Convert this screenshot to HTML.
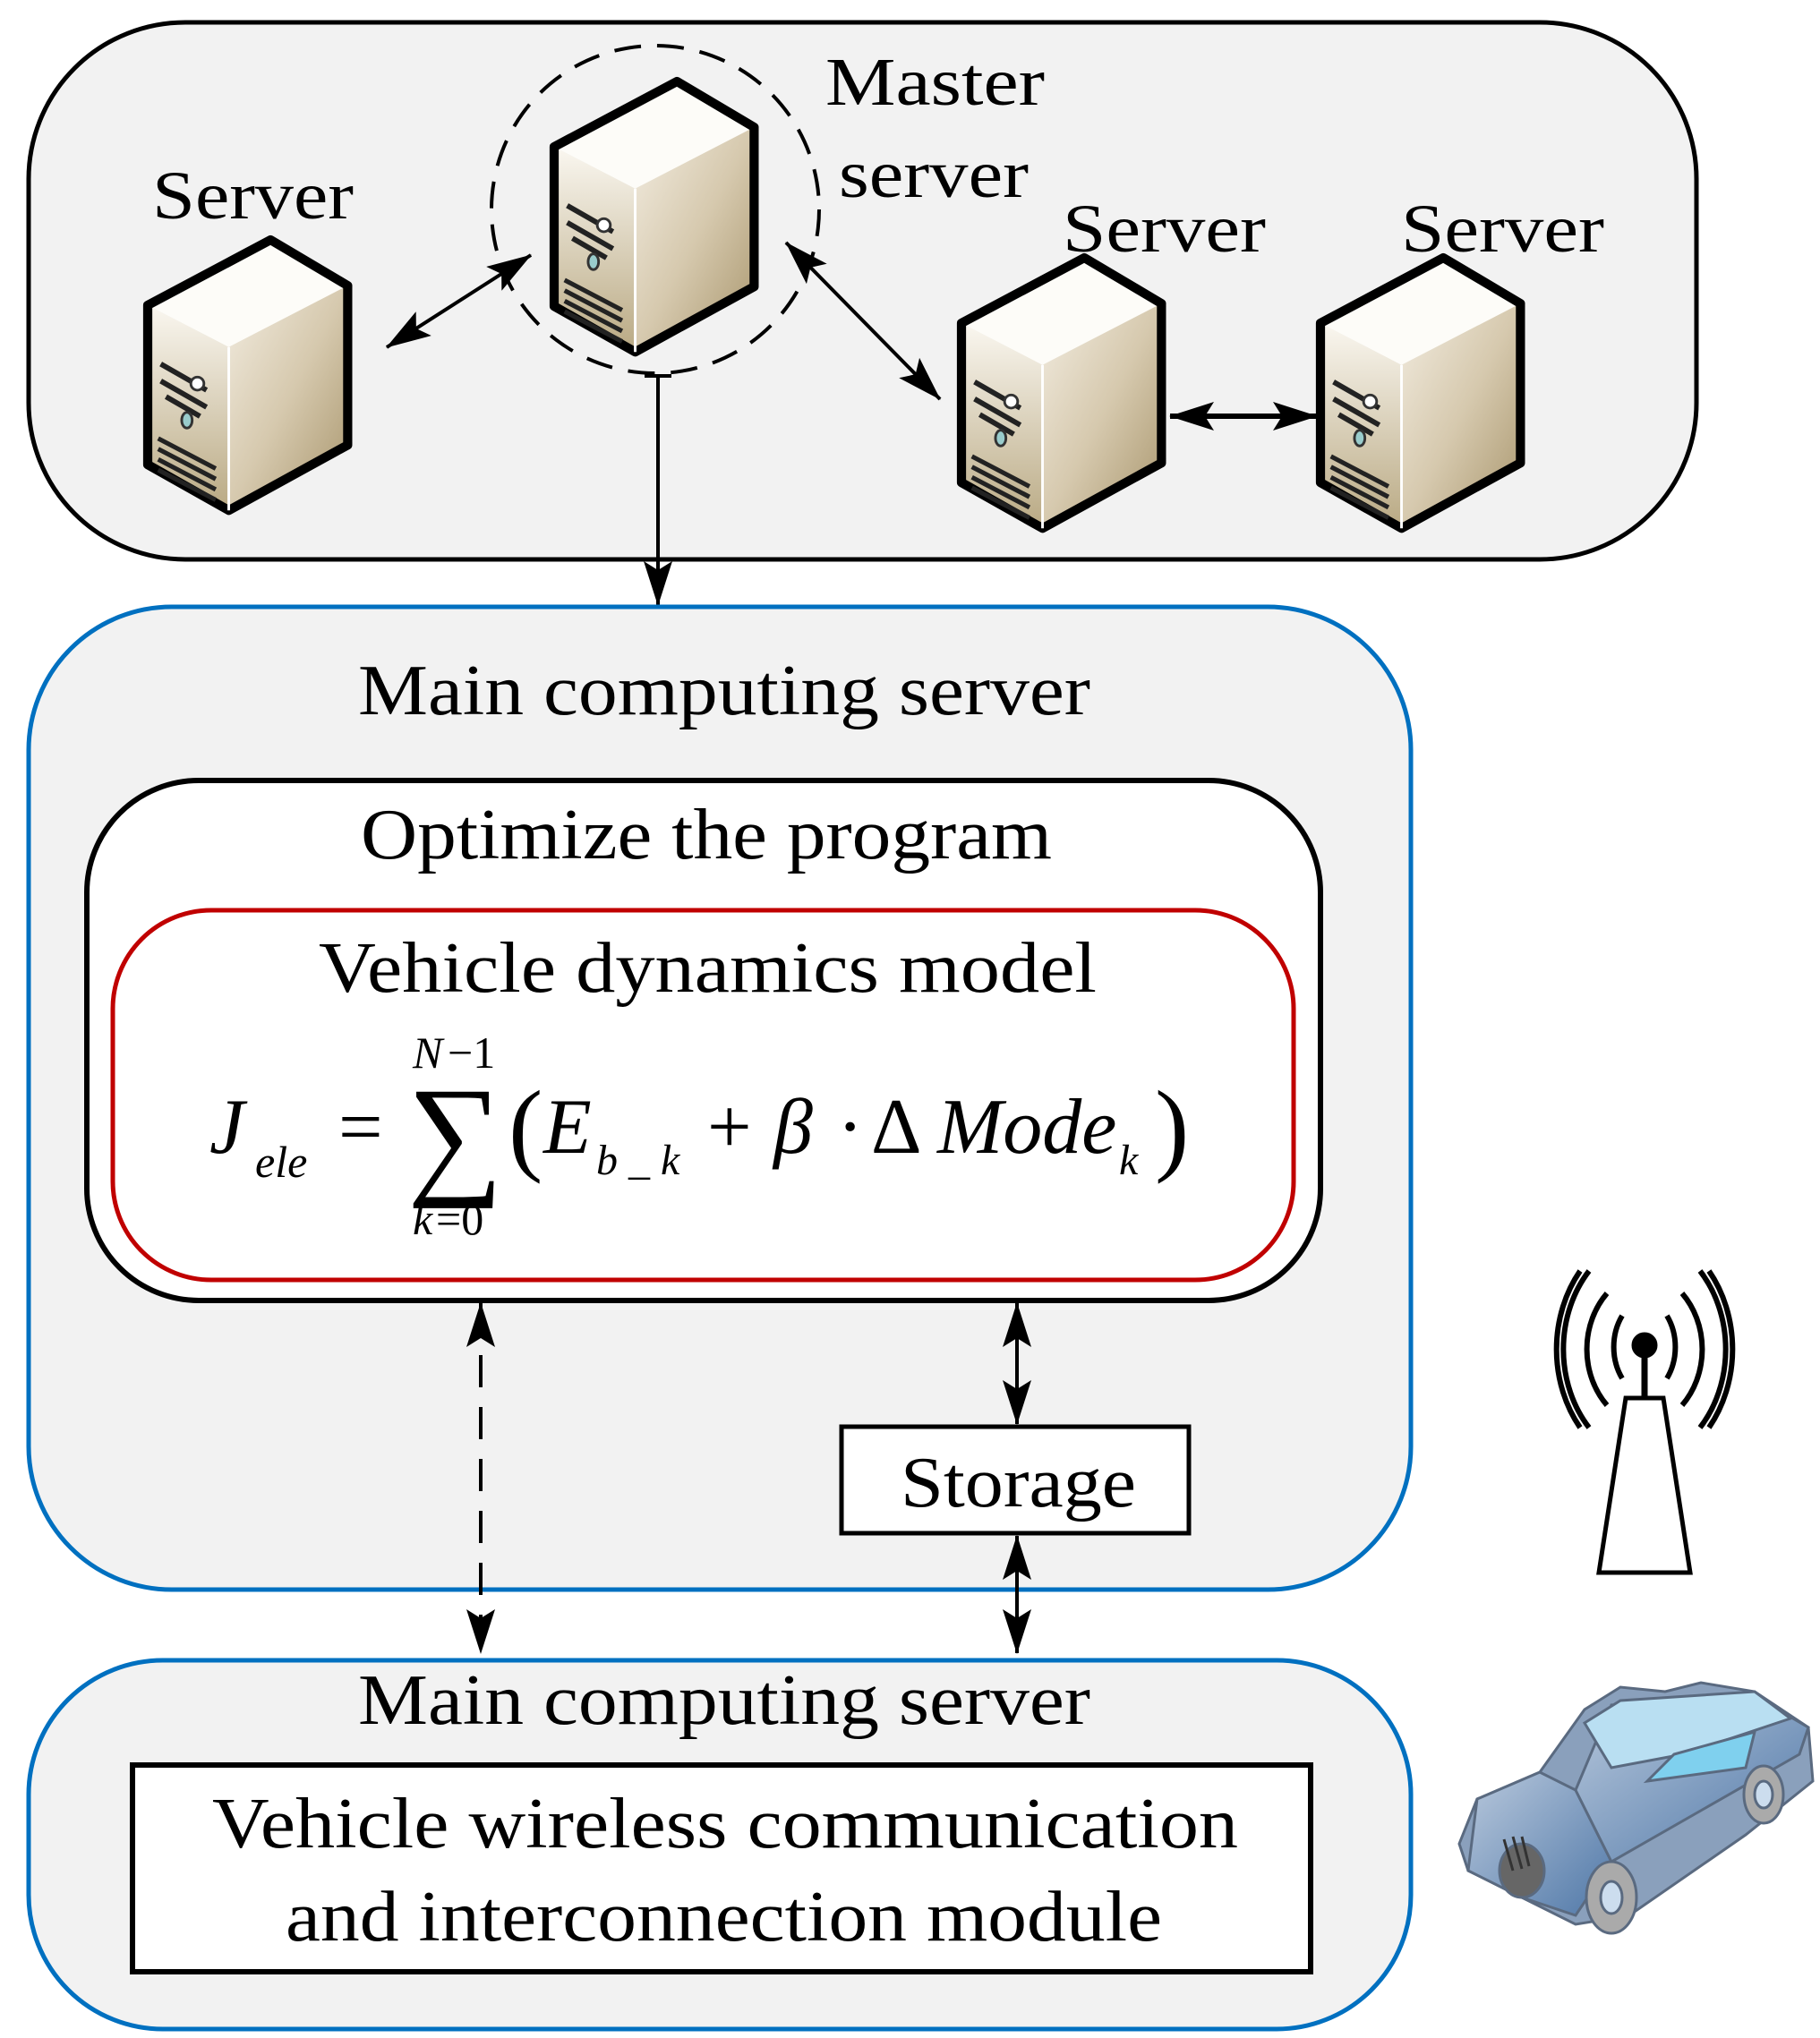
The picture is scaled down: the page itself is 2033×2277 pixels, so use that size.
<!DOCTYPE html>
<html><head><meta charset="utf-8"><style>html,body{margin:0;padding:0;background:#fff}svg{display:block}</style></head>
<body>
<svg width="2033" height="2277" viewBox="0 0 2033 2277" xmlns="http://www.w3.org/2000/svg" font-family="'Liberation Serif', serif">
<defs>
<marker id="ab" viewBox="0 0 50 32" refX="49" refY="16" markerWidth="50" markerHeight="32" markerUnits="userSpaceOnUse" orient="auto-start-reverse">
<path d="M0,0 L50,16 L0,32 L10,16 Z" fill="#000"/></marker>
<linearGradient id="side" x1="0" y1="0" x2="1" y2="1"><stop offset="0" stop-color="#f2ece0"/><stop offset="0.5" stop-color="#d6c9ae"/><stop offset="1" stop-color="#a8956c"/></linearGradient>
<linearGradient id="front" x1="0" y1="0" x2="0" y2="1"><stop offset="0" stop-color="#faf7f0"/><stop offset="1" stop-color="#b9a983"/></linearGradient>
<linearGradient id="car" x1="0" y1="0" x2="1" y2="1"><stop offset="0" stop-color="#b8c8dc"/><stop offset="1" stop-color="#5078a8"/></linearGradient>
<g id="srv">
<path d="M0,50 L94,0 L153,35 L62,82 Z" fill="#fdfcf8"/>
<path d="M0,50 L62,82 L62,207 L0,172 Z" fill="url(#front)"/>
<path d="M62,82 L153,35 L153,157 L62,207 Z" fill="url(#side)"/>
<path d="M0,50 L94,0 L153,35 L153,157 L62,207 L0,172 Z" fill="none" stroke="#000" stroke-width="7" stroke-linejoin="round"/>
<path d="M62,82 L62,207" stroke="#fff" stroke-width="2"/>
<path d="M10,95 L45,115 M10,108 L45,128 M14,120 L40,135" stroke="#222" stroke-width="4"/>
<ellipse cx="38" cy="110" rx="5" ry="5" fill="#fff" stroke="#333" stroke-width="2"/>
<ellipse cx="30" cy="138" rx="4" ry="6" fill="#9cc" stroke="#333" stroke-width="2"/>
<path d="M8,160 L52,183 M8,168 L52,191 M8,176 L52,199 M8,152 L52,175" stroke="#222" stroke-width="3.5"/>
</g>
</defs>

<rect x="32" y="25" width="1863" height="600" rx="175" ry="175" fill="#f2f2f2" stroke="#000" stroke-width="5"/>
<circle cx="732" cy="234" r="183" fill="none" stroke="#000" stroke-width="4" stroke-dasharray="30,18"/>
<use href="#srv" transform="translate(165,268) scale(1.46)"/>
<use href="#srv" transform="translate(619,91) scale(1.46)"/>
<use href="#srv" transform="translate(1074,288) scale(1.46)"/>
<use href="#srv" transform="translate(1475,288) scale(1.46)"/>
<g font-size="76">
<text x="170" y="244" textLength="225" lengthAdjust="spacingAndGlyphs">Server</text>
<text x="922" y="117" textLength="245" lengthAdjust="spacingAndGlyphs">Master</text>
<text x="937" y="220" textLength="212" lengthAdjust="spacingAndGlyphs">server</text>
<text x="1187" y="281" textLength="227" lengthAdjust="spacingAndGlyphs">Server</text>
<text x="1565" y="281" textLength="227" lengthAdjust="spacingAndGlyphs">Server</text>
</g>
<line x1="432" y1="388" x2="593" y2="285" stroke="#000" stroke-width="4" marker-start="url(#ab)" marker-end="url(#ab)"/>
<line x1="878" y1="271" x2="1050" y2="446" stroke="#000" stroke-width="4" marker-start="url(#ab)" marker-end="url(#ab)"/>
<line x1="1307" y1="465" x2="1471" y2="465" stroke="#000" stroke-width="6" marker-start="url(#ab)" marker-end="url(#ab)"/>
<line x1="720" y1="420" x2="750" y2="420" stroke="#000" stroke-width="4"/>
<line x1="735" y1="420" x2="735" y2="676" stroke="#000" stroke-width="4" marker-end="url(#ab)"/>

<rect x="32" y="678" width="1544" height="1098" rx="160" ry="160" fill="#f2f2f2" stroke="#0070c0" stroke-width="5"/>
<text x="400" y="798" font-size="80" textLength="818" lengthAdjust="spacingAndGlyphs">Main computing server</text>
<rect x="97" y="872" width="1378" height="581" rx="125" ry="125" fill="#fff" stroke="#000" stroke-width="6"/>
<text x="403" y="959" font-size="80" textLength="772" lengthAdjust="spacingAndGlyphs">Optimize the program</text>
<rect x="126" y="1017" width="1319" height="413" rx="110" ry="110" fill="#fff" stroke="#c00000" stroke-width="5"/>
<text x="356" y="1108" font-size="80" textLength="869" lengthAdjust="spacingAndGlyphs">Vehicle dynamics model</text>
<g font-size="88">
<text x="234" y="1288" font-style="italic">J</text>
<text x="285" y="1315" font-size="50" font-style="italic">ele</text>
<text x="378" y="1288">=</text>
<text x="455" y="1318" font-size="150">∑</text>
<text x="461" y="1193" font-size="50" font-style="italic">N</text><text x="500" y="1193" font-size="50">−1</text>
<text x="461" y="1379" font-size="50" font-style="italic">k</text><text x="487" y="1379" font-size="50">=0</text>
<text x="568" y="1298" font-size="115">(</text>
<text x="607" y="1288" font-style="italic">E</text>
<text x="666" y="1312" font-size="48" font-style="italic">b _ k</text>
<text x="790" y="1288">+</text>
<text x="864" y="1288" font-style="italic">β</text>
<text x="935" y="1288">·</text>
<text x="973" y="1288">Δ</text>
<text x="1047" y="1288" font-style="italic">Mode</text>
<text x="1250" y="1312" font-size="48" font-style="italic">k</text>
<text x="1290" y="1298" font-size="115">)</text>
</g>
<rect x="940" y="1594" width="388" height="119" fill="#fff" stroke="#000" stroke-width="5"/>
<text x="1006" y="1683" font-size="80" textLength="263" lengthAdjust="spacingAndGlyphs">Storage</text>
<line x1="537" y1="1456" x2="537" y2="1847" stroke="#000" stroke-width="4" stroke-dasharray="36,22" marker-start="url(#ab)" marker-end="url(#ab)"/>
<line x1="1136" y1="1456" x2="1136" y2="1591" stroke="#000" stroke-width="4" marker-start="url(#ab)" marker-end="url(#ab)"/>
<line x1="1136" y1="1716" x2="1136" y2="1847" stroke="#000" stroke-width="4" marker-start="url(#ab)" marker-end="url(#ab)"/>

<rect x="32" y="1855" width="1544" height="412" rx="150" ry="150" fill="#f2f2f2" stroke="#0070c0" stroke-width="5"/>
<text x="400" y="1926" font-size="80" textLength="818" lengthAdjust="spacingAndGlyphs">Main computing server</text>
<rect x="148" y="1972" width="1316" height="231" fill="#fff" stroke="#000" stroke-width="6"/>
<text x="237" y="2064" font-size="80" textLength="1146" lengthAdjust="spacingAndGlyphs">Vehicle wireless communication</text>
<text x="319" y="2168" font-size="80" textLength="979" lengthAdjust="spacingAndGlyphs">and interconnection module</text>

<g stroke="#000" fill="none">
<path d="M1816,1562 L1858,1562 L1888,1757 L1786,1757 Z" fill="#fff" stroke-width="5"/>
<line x1="1837" y1="1505" x2="1837" y2="1562" stroke-width="7"/>
<circle cx="1837" cy="1503" r="14" fill="#000"/>
<g stroke-width="6">
<path d="M1812,1470 A50,60 0 0 0 1812,1540"/><path d="M1862,1470 A50,60 0 0 1 1862,1540"/>
<path d="M1795,1445 A80,90 0 0 0 1795,1570"/><path d="M1879,1445 A80,90 0 0 1 1879,1570"/>
<path d="M1775,1420 A110,130 0 0 0 1775,1595"/><path d="M1899,1420 A110,130 0 0 1 1899,1595"/>
<path d="M1765,1420 A120,140 0 0 0 1765,1595"/><path d="M1909,1420 A120,140 0 0 1 1909,1595"/>
</g></g>

<g stroke="#5a6a80" stroke-width="3">
<path d="M1630,2060 L1650,2010 L1720,1980 L1770,1910 L1810,1885 L1860,1890 L1900,1880 L1960,1890 L2020,1930 L2025,1990 L1950,2050 L1820,2140 L1760,2150 L1700,2120 L1640,2090 Z" fill="#8aa0bc"/>
<path d="M1650,2010 L1720,1980 L1760,2000 L1800,2080 L1760,2140 L1700,2120 L1640,2090 Z" fill="url(#car)"/>
<path d="M1760,2000 L1800,2080 L2010,1960 L2020,1930 L1960,1895 L1800,1905 Z" fill="url(#car)"/>
<path d="M1770,1925 L1810,1900 L1960,1890 L2000,1920 L1880,1960 L1800,1975 Z" fill="#b9dff2"/>
<path d="M1840,1990 L1870,1960 L1960,1935 L1950,1975 Z" fill="#7fd0ee"/>
<ellipse cx="1700" cy="2090" rx="25" ry="30" fill="#666"/>
<ellipse cx="1800" cy="2120" rx="28" ry="40" fill="#aaa"/><ellipse cx="1800" cy="2120" rx="12" ry="18" fill="#cde"/>
<ellipse cx="1970" cy="2005" rx="22" ry="32" fill="#aaa"/><ellipse cx="1970" cy="2005" rx="10" ry="15" fill="#cde"/>
<path d="M1680,2055 L1690,2090 M1690,2052 L1700,2088 M1700,2052 L1708,2085" stroke="#333"/>
</g>
</svg>
</body></html>
